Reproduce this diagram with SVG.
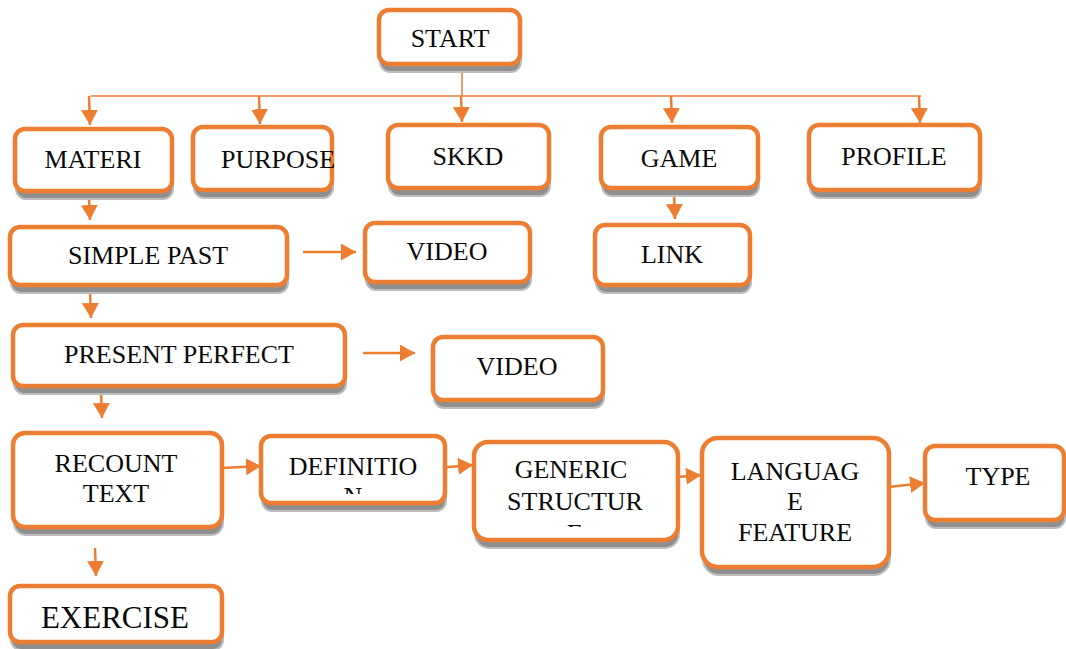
<svg xmlns="http://www.w3.org/2000/svg" width="1066" height="649" viewBox="0 0 1066 649">
  <style>
    .box { fill: #ffffff; stroke: #ED7D31; stroke-width: 4.5; }
    .sh { fill: #8f8f8f; stroke: #bdbdbd; stroke-width: 2; }
    .lbl { font-family: "Liberation Serif", "Times New Roman", serif; font-size: 26px; fill: #0a0a0a; text-anchor: middle; }
    .big { font-size: 31px; }
    .con { fill: none; stroke: #ED7D31; stroke-width: 2.5; }
    .thin { stroke-width: 1.5; }
  </style>
  <defs>
    <marker id="ah" viewBox="0 0 15 17" refX="15" refY="8.5" markerWidth="15" markerHeight="17" markerUnits="userSpaceOnUse" orient="auto">
      <path d="M0,0 L15,8.5 L0,17 z" fill="#ED7D31"/>
    </marker>
    <clipPath id="clipDef"><rect x="261" y="436" width="184" height="58"/></clipPath>
    <clipPath id="clipGen"><rect x="474" y="442" width="204" height="85"/></clipPath>
  </defs>
  <rect width="1066" height="649" fill="#ffffff"/>

  <!-- connectors -->
  <g id="connectors">
    <path class="con thin" d="M462,64 V96 M91,96 H921"/>
    <path class="con" d="M89,96 L90,125" marker-end="url(#ah)"/>
    <path class="con" d="M259,96 L260,124" marker-end="url(#ah)"/>
    <path class="con" d="M461,96 L462,122" marker-end="url(#ah)"/>
    <path class="con" d="M671,96 L672,123" marker-end="url(#ah)"/>
    <path class="con" d="M919,96 L920,123" marker-end="url(#ah)"/>
    <path class="con" d="M674,192 L675,219" marker-end="url(#ah)"/>
    <path class="con" d="M89,197 L90,220" marker-end="url(#ah)"/>
    <path class="con" d="M303,252 H356" marker-end="url(#ah)"/>
    <path class="con" d="M90,291 L91,318" marker-end="url(#ah)"/>
    <path class="con" d="M363,353 H415" marker-end="url(#ah)"/>
    <path class="con" d="M101,392 L102,418" marker-end="url(#ah)"/>
    <path class="con" d="M222,468 L261,466" marker-end="url(#ah)"/>
    <path class="con" d="M437,468 L473,465" marker-end="url(#ah)"/>
    <path class="con" d="M665,478 L701,475" marker-end="url(#ah)"/>
    <path class="con" d="M888,487 L925,483" marker-end="url(#ah)"/>
    <path class="con" d="M95,548 L96,576" marker-end="url(#ah)"/>
  </g>

  <g id="start">
    <rect class="sh" x="380" y="18" width="141" height="54" rx="10"/>
    <rect class="box" x="379" y="10" width="141" height="54" rx="10"/>
    <text class="lbl" x="450" y="47">START</text>
  </g>
  <g id="materi">
    <rect class="sh" x="16" y="137" width="157" height="62" rx="10"/>
    <rect class="box" x="15" y="129" width="157" height="62" rx="10"/>
    <text class="lbl" x="93" y="168">MATERI</text>
  </g>
  <g id="purpose">
    <rect class="sh" x="194" y="135" width="139" height="63" rx="10"/>
    <rect class="box" x="193" y="127" width="139" height="63" rx="10"/>
    <text class="lbl" x="278" y="168">PURPOSE</text>
  </g>
  <g id="skkd">
    <rect class="sh" x="389" y="133" width="161" height="63" rx="10"/>
    <rect class="box" x="388" y="125" width="161" height="63" rx="10"/>
    <text class="lbl" x="468" y="165">SKKD</text>
  </g>
  <g id="game">
    <rect class="sh" x="602" y="135" width="157" height="61" rx="10"/>
    <rect class="box" x="601" y="127" width="157" height="61" rx="10"/>
    <text class="lbl" x="679" y="167">GAME</text>
  </g>
  <g id="profile">
    <rect class="sh" x="810" y="133" width="171" height="65" rx="10"/>
    <rect class="box" x="809" y="125" width="171" height="65" rx="10"/>
    <text class="lbl" x="894" y="165">PROFILE</text>
  </g>
  <g id="link">
    <rect class="sh" x="596" y="233" width="155" height="60" rx="10"/>
    <rect class="box" x="595" y="225" width="155" height="60" rx="10"/>
    <text class="lbl" x="672" y="263">LINK</text>
  </g>
  <g id="simple-past">
    <rect class="sh" x="11" y="235" width="277" height="58" rx="10"/>
    <rect class="box" x="10" y="227" width="277" height="58" rx="10"/>
    <text class="lbl" x="148" y="264">SIMPLE PAST</text>
  </g>
  <g id="video-1">
    <rect class="sh" x="366" y="231" width="165" height="59" rx="10"/>
    <rect class="box" x="365" y="223" width="165" height="59" rx="10"/>
    <text class="lbl" x="447" y="260">VIDEO</text>
  </g>
  <g id="present-perfect">
    <rect class="sh" x="14" y="333" width="332" height="61" rx="10"/>
    <rect class="box" x="13" y="325" width="332" height="61" rx="10"/>
    <text class="lbl" x="179" y="363">PRESENT PERFECT</text>
  </g>
  <g id="video-2">
    <rect class="sh" x="434" y="345" width="170" height="63" rx="10"/>
    <rect class="box" x="433" y="337" width="170" height="63" rx="10"/>
    <text class="lbl" x="517" y="375">VIDEO</text>
  </g>
  <g id="recount-text">
    <rect class="sh" x="14" y="441" width="209" height="94" rx="12"/>
    <rect class="box" x="13" y="433" width="209" height="94" rx="12"/>
    <text class="lbl" x="116" y="472">RECOUNT</text>
    <text class="lbl" x="116" y="502">TEXT</text>
  </g>
  <g id="definition">
    <rect class="sh" x="262" y="444" width="184" height="67" rx="10"/>
    <rect class="box" x="261" y="436" width="184" height="67" rx="10"/>
    <g clip-path="url(#clipDef)">
      <text class="lbl" x="353" y="475">DEFINITIO</text>
      <text class="lbl" x="353" y="505">N</text>
    </g>
  </g>
  <g id="generic-structure">
    <rect class="sh" x="475" y="450" width="204" height="98" rx="14"/>
    <rect class="box" x="474" y="442" width="204" height="98" rx="14"/>
    <g clip-path="url(#clipGen)">
      <text class="lbl" x="571" y="478">GENERIC</text>
      <text class="lbl" x="575" y="510">STRUCTUR</text>
      <text class="lbl" x="575" y="542">E</text>
    </g>
  </g>
  <g id="language-feature">
    <rect class="sh" x="703" y="446" width="187" height="129" rx="16"/>
    <rect class="box" x="702" y="438" width="187" height="129" rx="16"/>
    <text class="lbl" x="795" y="480">LANGUAG</text>
    <text class="lbl" x="795" y="510">E</text>
    <text class="lbl" x="795" y="541">FEATURE</text>
  </g>
  <g id="type">
    <rect class="sh" x="926" y="454" width="139" height="74" rx="10"/>
    <rect class="box" x="925" y="446" width="139" height="74" rx="10"/>
    <text class="lbl" x="998" y="485">TYPE</text>
  </g>
  <g id="exercise">
    <rect class="sh" x="11" y="594" width="212" height="56" rx="10"/>
    <rect class="box" x="10" y="586" width="212" height="56" rx="10"/>
    <text class="lbl big" x="115" y="628">EXERCISE</text>
  </g>
</svg>
